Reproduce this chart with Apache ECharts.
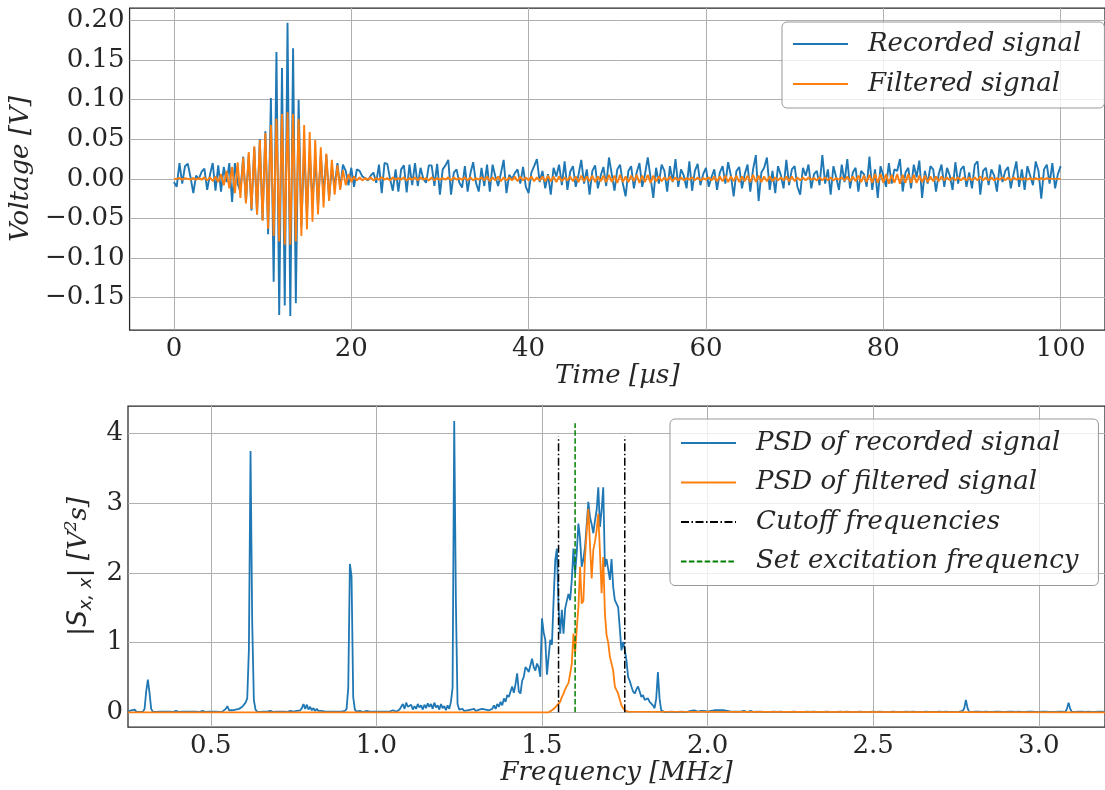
<!DOCTYPE html>
<html><head><meta charset="utf-8">
<script src="https://cdn.jsdelivr.net/npm/echarts@6/dist/echarts.min.js"></script>
<style>html,body{margin:0;padding:0;background:#fff}#c{width:1105px;height:790px}</style>
</head><body><div id="c"></div>
<script>
// ---------- Top plot: time signals (sampled every 0.3125 µs from 0 µs) ----------
const timeStart = 0;
const timeStep = 0.3125;
const recordedSignal = [
-0.004,-0.010,0.020,-0.006,0.016,0.019,0.002,-0.018,0.004,0.000,0.009,0.013,-0.014,0.005,0.020,-0.015,
0.017,-0.016,0.015,-0.004,0.020,-0.029,0.020,-0.006,-0.016,0.028,-0.030,0.030,-0.040,0.040,-0.045,0.050,
-0.052,0.060,-0.070,0.102,-0.130,0.160,-0.172,0.140,-0.160,0.197,-0.173,0.165,-0.157,0.100,-0.060,
0.040,-0.045,0.035,-0.030,0.025,-0.035,0.030,-0.020,0.030,-0.025,0.015,-0.010,0.020,-0.012,0.018,0.010,-0.008,0.014,-0.010,0.012,
0.010,0.003,0.001,-0.002,0.004,0.008,-0.005,0.018,-0.018,0.020,
0.019,0.000,-0.015,0.012,-0.016,0.012,0.017,-0.017,0.018,-0.008,
0.020,-0.009,0.014,0.000,-0.005,0.017,0.017,-0.009,0.019,-0.020,
0.012,0.017,0.024,-0.020,0.008,0.012,-0.005,-0.011,0.016,-0.016,
0.007,0.021,-0.005,-0.016,0.014,-0.009,0.018,-0.016,0.018,0.003,
-0.009,0.007,0.024,-0.018,0.005,0.000,0.007,
0.012,-0.006,0.015,-0.010,-0.018,0.008,0.016,0.025,-0.004,0.010,
-0.012,0.006,-0.020,0.014,0.003,0.018,-0.008,0.022,-0.014,0.009,
0.016,-0.010,0.005,0.024,-0.006,0.012,-0.020,0.010,0.017,-0.012,
0.004,0.015,-0.009,0.027,0.006,-0.015,0.012,0.018,-0.006,-0.022,
0.010,0.016,-0.012,0.008,0.020,-0.010,0.006,0.027,0.002,-0.024,
0.014,-0.006,0.018,0.010,-0.016,0.016,-0.004,0.025,-0.010,0.012,
0.004,-0.012,0.022,-0.015,0.010,0.019,-0.008,0.006,0.014,-0.010,
0.002,0.012,-0.014,0.008,0.016,-0.006,0.021,0.004,-0.022,0.010,
0.015,-0.012,0.006,0.018,-0.016,0.012,0.030,-0.028,0.008,0.014,
0.027,-0.014,0.010,-0.018,0.016,0.005,-0.012,0.024,-0.008,0.012,
0.016,-0.010,-0.020,0.014,0.004,0.018,-0.012,0.006,0.010,-0.008,
0.030,-0.006,0.012,-0.020,0.016,0.002,-0.014,0.018,-0.004,0.025,
-0.012,0.008,0.014,-0.016,0.010,0.006,-0.010,0.028,-0.014,0.012,
-0.024,0.016,0.004,-0.010,0.020,-0.006,0.012,0.010,0.025,-0.016,
0.008,0.014,-0.012,0.018,0.002,0.023,-0.024,0.010,-0.006,0.016,
0.012,-0.016,0.006,0.018,-0.010,0.014,0.004,-0.014,0.021,-0.006,
0.012,0.016,-0.010,0.008,-0.012,0.018,0.022,-0.020,0.010,0.014,
-0.008,0.012,0.004,-0.016,0.018,-0.004,0.010,0.015,-0.012,0.006,
0.022,-0.010,0.012,-0.014,0.016,0.004,-0.008,0.022,0.010,-0.025,
0.012,0.018,-0.006,0.020,-0.012,0.006,0.016
];
const filteredSignal = [
0.000,0.000,0.001,-0.001,0.001,0.000,-0.001,0.001,-0.001,0.001,-0.001,0.002,-0.002,0.002,-0.003,0.003,
-0.004,0.006,-0.008,0.010,-0.012,0.015,-0.018,0.021,-0.024,0.027,
-0.031,0.034,-0.038,0.041,-0.045,0.049,-0.053,0.058,-0.063,0.068,
-0.072,0.076,-0.079,0.082,-0.083,0.084,-0.083,0.082,-0.079,0.076,
-0.072,0.068,-0.064,0.059,-0.054,0.049,-0.045,0.040,-0.036,0.032,
-0.028,0.024,-0.020,0.017,-0.014,0.011,-0.008,0.006,-0.004,0.003,
-0.002,
0.002,-0.002,0.001,-0.001,0.002,-0.002,0.001,-0.001,0.002,-0.001,
0.001,-0.002,0.002,-0.001,0.001,-0.001,0.002,-0.002,0.001,-0.001,
0.002,-0.002,0.002,-0.001,0.001,-0.002,0.002,-0.002,0.001,-0.001,
0.001,-0.001,0.002,-0.002,0.002,-0.001,0.001,-0.001,0.002,-0.002,
0.002,-0.002,0.001,-0.001,0.002,-0.002,0.003,-0.003,0.002,-0.002,
0.003,-0.003,0.002,-0.002,0.002,-0.002,0.003,-0.003,0.003,-0.002,
0.002,-0.002,0.003,-0.003,0.002,-0.002,0.003,-0.003,0.004,-0.003,
0.003,-0.004,0.003,-0.003,0.002,-0.002,0.003,-0.003,0.003,-0.004,
0.004,-0.003,0.003,-0.003,0.004,-0.004,0.003,-0.003,0.004,-0.004,
0.005,-0.004,0.004,-0.005,0.005,-0.004,0.003,-0.004,0.004,-0.003,
0.005,-0.005,0.004,-0.004,0.005,-0.005,0.004,-0.003,0.003,-0.003,
0.002,-0.002,0.003,-0.003,0.002,-0.002,0.002,-0.002,0.001,-0.001,
0.002,-0.002,0.002,-0.002,0.001,-0.001,0.002,-0.002,0.003,-0.003,
0.003,-0.003,0.004,-0.004,0.003,-0.003,0.004,-0.004,0.003,-0.003,
0.004,-0.004,0.005,-0.004,0.004,-0.004,0.003,-0.003,0.003,-0.003,
0.002,-0.002,0.002,-0.002,0.003,-0.003,0.003,-0.003,0.002,-0.002,
0.002,-0.002,0.002,-0.001,0.001,-0.002,0.002,-0.002,0.002,-0.002,
0.002,-0.002,0.001,-0.001,0.002,-0.002,0.003,-0.003,0.003,-0.003,
0.004,-0.004,0.004,-0.004,0.005,-0.005,0.006,-0.005,0.006,-0.005,
0.006,-0.006,0.005,-0.005,0.006,-0.006,0.005,-0.005,0.006,-0.005,
0.005,-0.005,0.004,-0.004,0.004,-0.004,0.003,-0.003,0.003,-0.003,
0.003,-0.002,0.002,-0.002,0.002,-0.002,0.002,-0.002,0.002,-0.002,
0.002,-0.002,0.002,-0.002,0.003,-0.002,0.002,-0.002,0.002,-0.002,
0.001,-0.001,0.002,-0.002,0.002,-0.002,0.002,-0.001,0.001,-0.001,
0.001,-0.001,0.001,-0.001,0.001,-0.001,0.001,-0.001,0.001,0.000,
0.000,0.000,0.000,0.000
];
const timeTicks = [0, 20, 40, 60, 80, 100];
const voltageTicks = [-0.15, -0.10, -0.05, 0.00, 0.05, 0.10, 0.15, 0.20];

// ---------- Bottom plot: PSD (sampled every 0.005 MHz from 0.25 MHz) ----------
const freqStart = 0.25;
const freqStep = 0.005;
const psdRecorded = [
0.01,0.01,0.03,0.05,0.04,0.01,0.01,0.005,0.005,0.01,0.05,
0.30,0.47,0.28,0.05,0.01,
0.01,0.005,0.01,0.01,0.005,0.01,0.02,0.01,0.005,0.01,
0.01,0.005,0.01,0.02,0.01,0.005,0.01,0.01,0.02,0.01,
0.005,0.01,0.02,0.01,0.005,0.01,0.01,0.005,0.01,0.02,
0.01,0.005,0.01,0.01,0.005,0.01,0.02,0.01,0.01,0.005,
0.01,0.01,0.02,
0.05,0.09,0.03,0.02,0.03,0.02,0.04,0.03,0.05,0.04,0.08,0.06,0.14,0.20,0.90,3.75,1.30,0.18,0.04,0.01,
0.01,0.005,0.01,0.01,0.005,0.01,0.01,0.02,0.01,0.005,0.01,0.01,0.005,0.01,0.02,0.01,0.01,0.005,0.01,0.02,0.01,0.01,0.03,0.02,0.04,0.03,
0.06,0.12,0.05,0.11,0.04,0.08,0.03,0.06,0.02,0.05,0.02,0.04,0.02,0.03,0.01,0.02,0.01,0.02,0.01,0.03,0.01,0.02,0.01,0.02,0.01,0.01,0.02,0.05,0.35,2.13,1.95,0.22,0.04,0.01,
0.01,0.02,0.01,0.005,0.01,0.02,0.01,0.01,0.005,0.01,0.02,0.01,0.03,0.01,0.02,0.01,0.005,0.01,0.02,0.01,0.01,0.03,0.02,0.01,0.02,0.04,
0.06,0.12,0.05,0.14,0.08,0.06,0.11,0.04,0.09,0.05,0.12,0.07,0.10,0.04,0.11,0.06,0.13,0.08,0.12,0.05,0.14,0.07,0.10,0.04,0.12,0.06,0.09,0.03,0.10,0.05,0.15,0.35,
4.18,1.60,0.12,0.04,
0.03,0.05,0.02,0.04,0.03,0.02,0.04,0.03,0.05,0.02,0.03,0.04,0.02,0.05,0.03,0.04,0.06,0.03,0.05,
0.05,0.10,0.05,0.12,0.08,0.15,0.10,0.20,0.15,0.25,
0.22,0.30,0.37,0.28,0.40,0.56,0.30,0.27,0.45,0.51,
0.65,0.62,0.58,0.60,0.77,0.65,0.60,0.70,0.65,0.51,
1.35,1.15,1.04,0.54,0.80,1.04,0.97,1.60,2.18,2.35,
1.50,1.13,1.47,1.13,1.49,1.60,1.70,1.61,1.90,2.35,
1.99,2.30,2.71,2.49,2.09,2.20,2.37,2.70,3.02,2.80,
2.70,2.57,2.75,2.90,3.23,2.66,2.90,3.23,2.09,2.20,
2.20,1.90,2.20,1.80,1.61,1.56,1.51,1.20,0.89,1.01,
0.90,0.75,0.51,0.45,0.37,0.30,0.27,0.33,0.37,0.30,
0.22,0.25,0.18,0.20,0.20,0.15,0.13,0.10,0.06,0.20,
0.58,0.20,0.03,
0.01,0.005,0.01,0.005,0.005,0.01,0.005,0.005,0.01,0.005,0.005,0.01,0.005,0.005,0.01,0.01,0.02,
0.02,0.01,0.03,0.02,0.01,0.03,0.02,0.04,0.02,0.03,0.01,0.03,0.02,0.04,0.03,0.02,0.03,0.01,0.03,0.02,
0.03,0.01,0.02,0.03,0.01,0.02,0.01,0.02,0.01,0.02,0.01,0.01,0.02,0.01,0.005,0.01,0.02,0.01,0.005,0.01,0.01,
0.005,0.01,0.005,0.005,0.01,0.005,0.01,0.005,0.005,0.01,
0.01,0.005,0.005,0.01,0.005,0.005,0.01,0.005,0.01,0.005,
0.005,0.01,0.005,0.005,0.01,0.005,0.01,0.005,0.005,0.01,
0.01,0.005,0.005,0.01,0.005,0.005,0.01,0.005,0.01,0.005,
0.005,0.01,0.005,0.005,0.01,0.005,0.01,0.005,0.005,0.01,
0.01,0.005,0.005,0.01,0.005,0.005,0.01,0.005,0.01,0.005,
0.005,0.01,0.005,0.005,0.01,0.005,0.01,0.005,0.005,0.01,
0.01,0.005,0.005,0.01,0.005,0.005,0.01,0.005,0.01,0.005,
0.005,0.01,0.005,0.005,0.01,0.005,0.01,0.005,0.005,0.01,
0.01,0.005,0.005,0.01,0.005,0.005,0.01,0.005,0.01,0.005,
0.005,0.01,0.005,0.005,0.01,0.005,0.01,0.005,0.005,0.01,
0.01,0.005,0.005,0.01,0.005,0.005,0.01,0.005,0.01,0.005,
0.005,0.01,0.01,0.02,
0.06,0.18,0.06,
0.005,0.01,0.005,0.005,0.01,0.005,0.01,0.005,0.005,0.01,
0.01,0.005,0.005,0.01,0.005,0.005,0.01,0.005,0.01,0.005,
0.005,0.01,0.005,0.005,0.01,0.005,0.01,0.005,0.005,0.01,
0.01,0.005,0.005,0.01,0.005,0.005,0.01,0.005,0.01,0.005,
0.005,0.01,0.005,0.005,0.01,0.005,0.01,0.005,0.005,0.01,
0.005,0.01,0.005,0.005,0.01,0.005,0.01,0.005,0.005,
0.05,0.14,0.05,
0.005,0.01,0.005,0.005,0.01,0.005,0.01,0.005,0.005,0.01,
0.01,0.005,0.005,0.01,0.005,0.005,0.01,0.005,0.01,0.005,
0.005
];
// Filtered PSD is zero outside its pass band; band values sampled every 0.005 MHz from 1.52 MHz
const filteredBandStart = 1.52;
const psdFilteredBand = [
0.00,0.01,0.03,0.05,0.07,0.10,0.12,0.15,0.22,0.27,
0.33,0.38,0.42,0.55,0.70,1.13,0.85,1.20,1.51,2.09,
1.56,1.60,2.23,2.60,2.92,2.40,1.92,2.33,2.45,2.61,
2.85,2.30,1.71,2.23,1.42,1.11,1.00,0.80,0.80,0.60,
0.37,0.32,0.27,0.18,0.10,0.06,0.03,0.02,0.01,0.00
];
const psdFilteredOutside = 0;
const cutoffFrequencies = [1.55, 1.75];
const cutoffLineTop = 3.96;
const excitationFrequency = 1.60;
const excitationLineTop = 4.15;
const freqTicks = [0.5, 1.0, 1.5, 2.0, 2.5, 3.0];
const psdTicks = [0, 1, 2, 3, 4];

// ---------- sanity checks ----------
if (recordedSignal.length !== 321) throw new Error('recordedSignal length ' + recordedSignal.length);
if (filteredSignal.length !== 321) throw new Error('filteredSignal length ' + filteredSignal.length);
if (psdRecorded.length !== 591) throw new Error('psdRecorded length ' + psdRecorded.length);
if (psdFilteredBand.length !== 50) throw new Error('psdFilteredBand length ' + psdFilteredBand.length);

// ---------- build series data ----------
const tOf = i => +(timeStart + i * timeStep).toFixed(4);
const fOf = i => +(freqStart + i * freqStep).toFixed(4);
const recordedData = recordedSignal.map((v, i) => [tOf(i), v]);
const filteredData = filteredSignal.map((v, i) => [tOf(i), v]);
const psdRecordedData = psdRecorded.map((v, i) => [fOf(i), v]);
const FMIN = 0.25, FMAX = 3.2;
const psdFilteredData = [[FMIN, psdFilteredOutside]]
  .concat(psdFilteredBand.map((v, i) => [+(filteredBandStart + i * freqStep).toFixed(4), v]))
  .concat([[FMAX, psdFilteredOutside]]);

const SERIF = 'DejaVu Serif';
const SANS = 'DejaVu Sans';
const TXT = '#262626';
const GRIDC = '#b0b0b0';
const BLUE = '#1f77b4', ORANGE = '#ff7f0e';
const FS = 26;
const LW = 1.9;

function valueAxis(o) {
  return Object.assign({
    type: 'value',
    axisLine: { show: false },
    axisTick: { show: false, customValues: o.ticks },
    axisLabel: { customValues: o.ticks, fontFamily: SERIF, fontSize: FS, color: TXT, margin: o.margin, formatter: o.fmt },
    splitLine: { show: true, lineStyle: { color: GRIDC, width: 1 } },
    nameLocation: 'middle',
    nameTextStyle: { fontFamily: SERIF, fontStyle: 'italic', fontSize: FS, color: TXT }
  }, o.extra);
}

const legendCommon = {
  orient: 'vertical',
  itemWidth: 55, itemHeight: 14,
  backgroundColor: 'rgba(255,255,255,0.8)',
  borderColor: '#999', borderWidth: 1, borderRadius: 5,
  itemStyle: { opacity: 0, borderWidth: 0 },
  textStyle: { fontFamily: SERIF, fontStyle: 'italic', fontSize: FS, color: TXT, lineHeight: 30, padding: [0, 0, 0, 15] }
};

const chart = echarts.init(document.getElementById('c'), null, { renderer: 'canvas' });
chart.setOption({
  animation: false,
  backgroundColor: '#fff',
  grid: [
    { left: 128, right: -6.4, top: 8, bottom: 460, show: true, borderColor: '#262626', borderWidth: 1.25 },
    { left: 128, right: -6.4, top: 406, bottom: 63, show: true, borderColor: '#262626', borderWidth: 1.25 }
  ],
  xAxis: [
    valueAxis({ ticks: timeTicks, margin: 6, fmt: v => String(v),
      extra: { gridIndex: 0, min: -5, max: 105, name: 'Time [µs]', nameGap: 32 } }),
    valueAxis({ ticks: freqTicks, margin: 6, fmt: v => v.toFixed(1),
      extra: { gridIndex: 1, min: FMIN, max: FMAX, name: 'Frequency [MHz]', nameGap: 32 } })
  ],
  yAxis: [
    valueAxis({ ticks: voltageTicks, margin: 5, fmt: v => v.toFixed(2).replace('-', '\u2212'),
      extra: { gridIndex: 0, min: -0.1908, max: 0.2157, name: 'Voltage [V]', nameGap: 86 } }),
    valueAxis({ ticks: psdTicks, margin: 5, fmt: v => String(v),
      extra: { gridIndex: 1, min: -0.21, max: 4.396,
        name: '{bar||}{s|S}{sub|x, x}{bar||}{u| [V}{sup|2}{u|s]}', nameGap: 27 } })
  ],
  legend: [
    Object.assign({}, legendCommon, { left: 782, top: 22, itemGap: 10, padding: [7, 23, 9, 10],
      data: ['Recorded signal', 'Filtered signal'] }),
    Object.assign({}, legendCommon, { left: 670, top: 419, itemGap: 9.5, padding: [9, 20, 9, 10],
      data: ['PSD of recorded signal', 'PSD of filtered signal', 'Cutoff frequencies', 'Set excitation frequency'] })
  ],
  series: [
    { name: 'Recorded signal', type: 'line', xAxisIndex: 0, yAxisIndex: 0, data: recordedData, symbol: 'none',
      lineStyle: { color: BLUE, width: LW }, itemStyle: { color: BLUE }, silent: true },
    { name: 'Filtered signal', type: 'line', xAxisIndex: 0, yAxisIndex: 0, data: filteredData, symbol: 'none',
      lineStyle: { color: ORANGE, width: LW }, itemStyle: { color: ORANGE }, silent: true },
    { name: 'PSD of recorded signal', type: 'line', xAxisIndex: 1, yAxisIndex: 1, data: psdRecordedData, symbol: 'none',
      lineStyle: { color: BLUE, width: 1.8 }, itemStyle: { color: BLUE }, silent: true },
    { name: 'PSD of filtered signal', type: 'line', xAxisIndex: 1, yAxisIndex: 1, data: psdFilteredData, symbol: 'none',
      lineStyle: { color: ORANGE, width: 1.8 }, itemStyle: { color: ORANGE }, silent: true },
    ...cutoffFrequencies.map(f => ({ name: 'Cutoff frequencies', type: 'line', xAxisIndex: 1, yAxisIndex: 1,
      data: [[f, 0], [f, cutoffLineTop]], symbol: 'none', silent: true,
      lineStyle: { color: '#000', width: 1.5, type: [8, 2.5, 1.5, 2.5] }, itemStyle: { color: '#000' } })),
    { name: 'Set excitation frequency', type: 'line', xAxisIndex: 1, yAxisIndex: 1,
      data: [[excitationFrequency, 0], [excitationFrequency, excitationLineTop]], symbol: 'none', silent: true,
      lineStyle: { color: '#008000', width: 1.5, type: [5.5, 2.4] }, itemStyle: { color: '#008000' } }
  ]
});
// rich y-axis name for PSD axis
chart.setOption({ yAxis: [{}, { nameTextStyle: { fontSize: FS, color: TXT, lineHeight: 32, rich: {
  bar: { fontFamily: SANS, fontSize: 27, lineHeight: 32, color: TXT },
  s: { fontFamily: SANS, fontStyle: 'italic', fontSize: FS, lineHeight: 32, color: TXT },
  sub: { fontFamily: SANS, fontStyle: 'italic', fontSize: 18, lineHeight: 18, verticalAlign: 'bottom', color: TXT },
  u: { fontFamily: SERIF, fontStyle: 'italic', fontSize: FS, lineHeight: 32, color: TXT },
  sup: { fontFamily: SERIF, fontStyle: 'italic', fontSize: 17, lineHeight: 17, verticalAlign: 'top', color: TXT }
} } }] });
</script></body></html>
